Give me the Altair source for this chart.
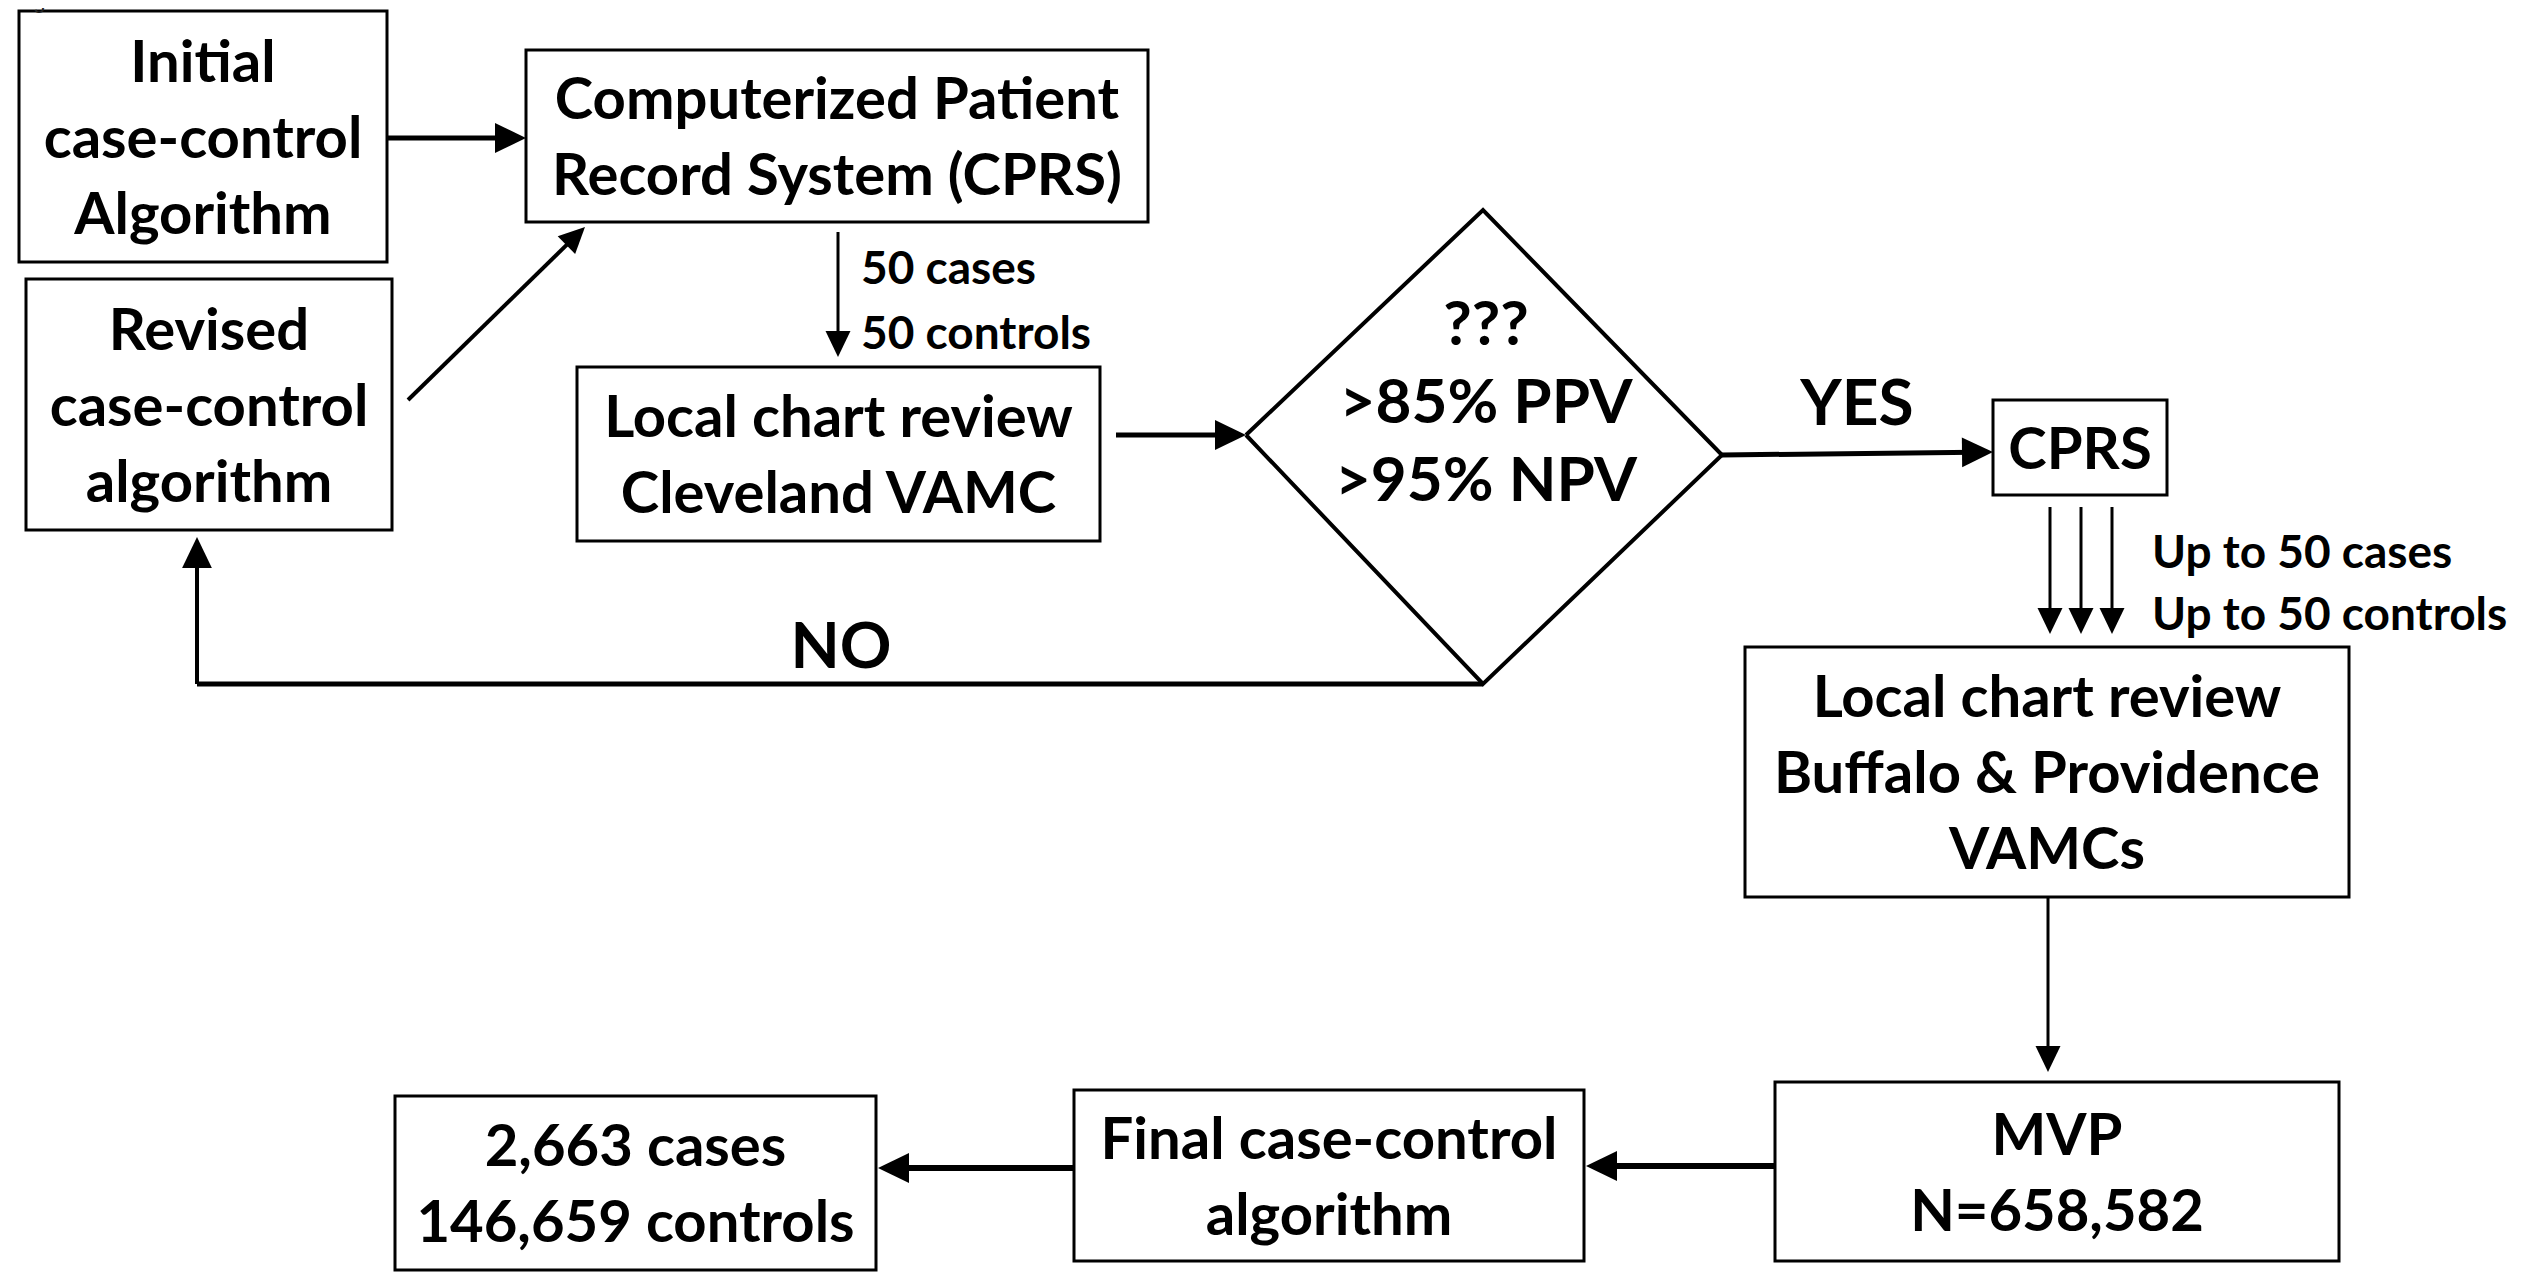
import math
import altair as alt
import pandas as pd

# ---------------- content ----------------
box_labels = [
    "Initial\ncase-control\nAlgorithm",
    "Computerized Patient\nRecord System (CPRS)",
    "Revised\ncase-control\nalgorithm",
    "Local chart review\nCleveland VAMC",
    "CPRS",
    "Local chart review\nBuffalo & Providence\nVAMCs",
    "MVP\nN=658,582",
    "Final case-control\nalgorithm",
    "2,663 cases\n146,659 controls",
]
decision_label = "???\n>85% PPV\n>95% NPV"
edge_notes = ["50 cases", "50 controls", "Up to 50 cases", "Up to 50 controls"]
branch_labels = ["YES", "NO"]
figure_caption = "Figure 1"

# ---------------- layout (pixels) ----------------
box_x0 = [19, 526, 26, 577, 1993, 1745, 1775, 1074, 395]
box_x1 = [387, 1148, 392, 1100, 2167, 2349, 2339, 1584, 876]
box_y0 = [11, 50, 279, 367, 400, 647, 1082, 1090, 1096]
box_y1 = [262, 222, 530, 541, 495, 897, 1261, 1261, 1270]

diamond_x = [1246, 1483, 1722, 1483, 1246]
diamond_y = [435, 210, 455, 684, 435]
decision_text_pos = (1486, 404)

note_x = [861, 861, 2152, 2152]
note_y = [270, 335, 554, 616]
branch_x = [1857, 841]
branch_y = [406, 649]

# arrows: start, tip, line width, head kind (thick/thin)
arr_x0 = [387, 408, 838, 1116, 1722, 2050, 2081, 2112, 2048, 1775, 1074, 197]
arr_y0 = [138, 400, 232, 435, 455, 507, 507, 507, 897, 1166, 1168, 684]
arr_x1 = [526, 585, 838, 1246, 1993, 2050, 2081, 2112, 2048, 1586, 878, 197]
arr_y1 = [138, 227, 357, 435, 452, 634, 634, 634, 1072, 1166, 1168, 537]
arr_w = [5, 4, 3, 5, 5, 3, 3, 3, 3, 6, 6, 4]
arr_thick = [True, False, False, True, True, False, False, False, False, True, True, True]

# plain connector (NO loop back)
seg_x0, seg_y0, seg_x1, seg_y1, seg_w = [1483], [684], [197], [684], [5]

W, H = 2531, 1265
xs = alt.Scale(domain=[8, 8 + W], nice=False, zero=False)
ys = alt.Scale(domain=[8 + H, 8], nice=False, zero=False)

FONT = "Lato"
BOX_LH = 76
DEC_LH = 78
TEXT_DY = 4

# ---------------- tables ----------------
boxes = pd.DataFrame({
    "label": box_labels, "x0": box_x0, "x1": box_x1, "y0": box_y0, "y1": box_y1,
})
boxes["cx"] = (boxes.x0 + boxes.x1) / 2
nlines = boxes.label.str.count("\n")
boxes["ty"] = (boxes.y0 + boxes.y1) / 2 - nlines * BOX_LH / 2 + TEXT_DY

diamond = pd.DataFrame({"x": diamond_x, "y": diamond_y, "o": range(len(diamond_x))})

HEAD_THICK, HEAD_THIN = 31, 26
rows = []
for x0, y0, x1, y1, w, th in zip(arr_x0, arr_y0, arr_x1, arr_y1, arr_w, arr_thick):
    L = HEAD_THICK if th else HEAD_THIN
    d = math.hypot(x1 - x0, y1 - y0)
    ux, uy = (x1 - x0) / d, (y1 - y0) / d
    rows.append({
        "x0": x0, "y0": y0, "xe": x1 - ux * L * 0.6, "ye": y1 - uy * L * 0.6,
        "tx": x1, "ty": y1, "w": w, "size": 4 * L * L,
        "ang": math.degrees(math.atan2(y1 - y0, x1 - x0)) % 360,
    })
arrows = pd.DataFrame(rows)
segs = pd.DataFrame({"x0": seg_x0, "y0": seg_y0, "xe": seg_x1, "ye": seg_y1, "w": seg_w})

notes = pd.DataFrame({"t": edge_notes, "x": note_x, "y": note_y})
branches = pd.DataFrame({"t": branch_labels, "x": branch_x, "y": branch_y})
dec = pd.DataFrame({
    "t": [decision_label], "x": [decision_text_pos[0]],
    "y": [decision_text_pos[1] - decision_label.count("\n") * DEC_LH / 2],
})
cap = pd.DataFrame({"t": [figure_caption], "x": [15], "y": [13]})

# ---------------- layers ----------------
rects = alt.Chart(boxes).mark_rect(fill="white", stroke="black", strokeWidth=3).encode(
    x=alt.X("x0:Q", scale=xs, axis=None), x2="x1:Q",
    y=alt.Y("y0:Q", scale=ys, axis=None), y2="y1:Q",
)
box_text = alt.Chart(boxes).mark_text(
    font=FONT, fontWeight="bold", fontSize=58, lineBreak="\n", lineHeight=BOX_LH,
    align="center", baseline="middle", color="black",
).encode(
    x=alt.X("cx:Q", scale=xs, axis=None), y=alt.Y("ty:Q", scale=ys, axis=None), text="label:N",
)
dia = alt.Chart(diamond).mark_line(color="black", strokeWidth=4, strokeJoin="miter").encode(
    x=alt.X("x:Q", scale=xs, axis=None), y=alt.Y("y:Q", scale=ys, axis=None), order="o:Q",
)
dia_text = alt.Chart(dec).mark_text(
    font=FONT, fontWeight="bold", fontSize=62, lineBreak="\n", lineHeight=DEC_LH,
    align="center", baseline="middle", color="black",
).encode(x=alt.X("x:Q", scale=xs, axis=None), y=alt.Y("y:Q", scale=ys, axis=None), text="t:N")

shafts = alt.Chart(arrows).mark_rule(color="black").encode(
    x=alt.X("x0:Q", scale=xs, axis=None), x2="xe:Q",
    y=alt.Y("y0:Q", scale=ys, axis=None), y2="ye:Q",
    strokeWidth=alt.StrokeWidth("w:Q", scale=None),
)
connectors = alt.Chart(segs).mark_rule(color="black").encode(
    x=alt.X("x0:Q", scale=xs, axis=None), x2="xe:Q",
    y=alt.Y("y0:Q", scale=ys, axis=None), y2="ye:Q",
    strokeWidth=alt.StrokeWidth("w:Q", scale=None),
)
heads = alt.Chart(arrows).mark_point(
    shape="M0,0L-1,-0.48L-1,0.48Z", filled=True, color="black", opacity=1, strokeWidth=0,
).encode(
    x=alt.X("tx:Q", scale=xs, axis=None), y=alt.Y("ty:Q", scale=ys, axis=None),
    size=alt.Size("size:Q", scale=None), angle=alt.Angle("ang:Q", scale=None),
)
note_text = alt.Chart(notes).mark_text(
    font=FONT, fontWeight="bold", fontSize=46, align="left", baseline="middle", color="black",
).encode(x=alt.X("x:Q", scale=xs, axis=None), y=alt.Y("y:Q", scale=ys, axis=None), text="t:N")
branch_text = alt.Chart(branches).mark_text(
    font=FONT, fontWeight="bold", fontSize=64, align="center", baseline="middle", color="black",
).encode(x=alt.X("x:Q", scale=xs, axis=None), y=alt.Y("y:Q", scale=ys, axis=None), text="t:N")
cap_text = alt.Chart(cap).mark_text(
    font="Liberation Sans", fontSize=22, align="left", baseline="bottom", color="#222",
).encode(x=alt.X("x:Q", scale=xs, axis=None), y=alt.Y("y:Q", scale=ys, axis=None), text="t:N")

chart = alt.layer(
    connectors, shafts, heads, rects, cap_text, box_text, dia, dia_text, note_text, branch_text
).properties(
    width=W, height=H, padding=0, autosize=alt.AutoSizeParams(type="none"),
    background="white",
).configure_view(stroke=None)

chart.save("out.html", embed_options={"renderer": "svg", "actions": False})
